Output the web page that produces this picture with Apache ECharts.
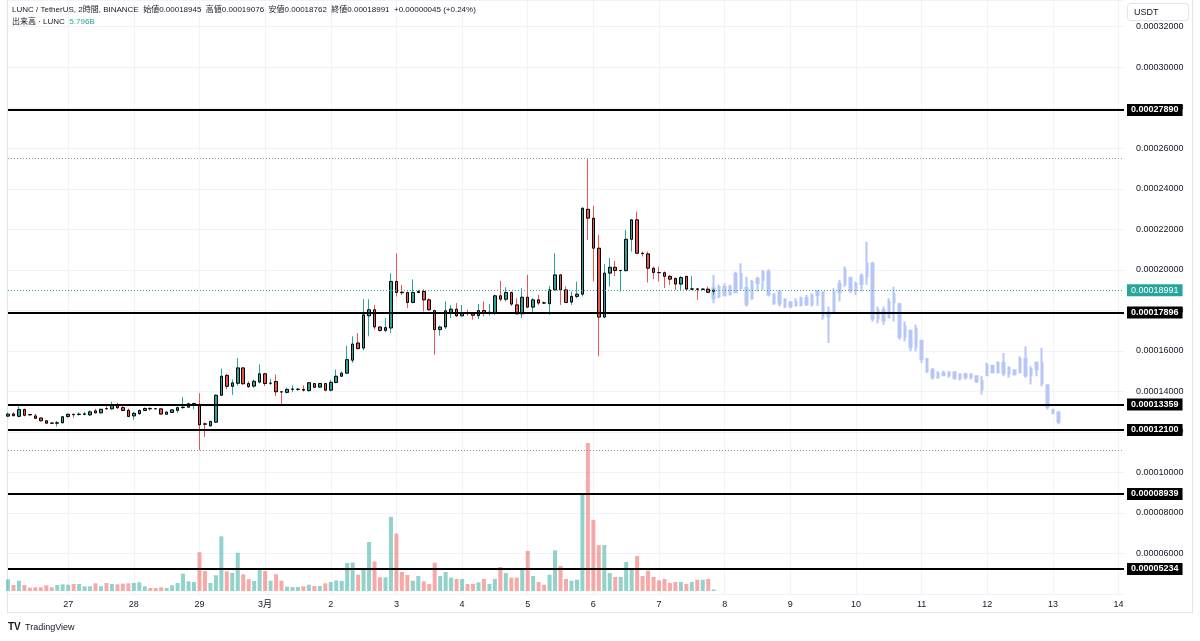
<!DOCTYPE html>
<html>
<head>
<meta charset="utf-8">
<title>LUNC / TetherUS 2時間</title>
<script src="https://cdn.jsdelivr.net/npm/echarts@6.0.0/dist/echarts.min.js"></script>
<style>
  html, body { margin: 0; padding: 0; background: #fff; }
  #chart-main { width: 1200px; height: 641px; }
</style>
</head>
<body>
<div id="chart-main"></div>
<script>
// 価格はすべて 1e-8 USDT 単位 (18991 = 0.00018991)
var startTime = Date.UTC(2024, 1, 26, 2);   // 最初の足 2/26 02:00
var slotCount = 205;                         // 2時間足の枠 (3/14 02:00 まで)

// ローソク足 [始値, 高値, 安値, 終値]
var candles = [
  [12780,12960,12740,12880],[12890,12970,12770,12800],[12770,13370,12720,13110],[13110,13150,12770,12820],
  [12860,12890,12800,12840],[12790,12900,12640,12670],[12690,12720,12520,12550],[12550,12590,12400,12430],
  [12440,12460,12410,12430],[12430,12540,12270,12450],[12450,12780,12420,12750],[12760,12920,12680,12870],
  [12870,12900,12700,12850],[12860,12970,12800,12880],[12870,12990,12820,12890],[12840,13070,12790,12990],
  [13040,13140,12920,12940],[12940,13140,12920,13120],[13150,13370,13110,13140],[13140,13500,13100,13320],
  [13330,13440,13140,13190],[13200,13330,13020,13060],[13070,13160,12750,12760],[12790,12990,12600,12920],
  [12900,13110,12840,13060],[13060,13200,13030,13160],[13160,13210,13050,13140],[13145,13160,13130,13140],
  [13140,13160,12860,12880],[12870,13000,12860,12980],[12960,13120,12930,13090],[13060,13250,12940,13200],
  [13200,13720,13150,13220],[13220,13440,13190,13390],[13380,13440,13120,13400],[13340,13910,11100,12350],
  [12400,12460,11760,12380],[12300,12550,12270,12520],[12480,13850,12460,13810],[13810,15120,13780,14750],
  [14790,14870,14110,14250],[14250,14590,13830,14420],[14400,15650,14280,15160],[15160,15190,14340,14375],
  [14390,14500,14180,14230],[14260,14580,14180,14500],[14460,15330,14390,14870],[14870,14915,14260,14390],
  [14400,14620,14320,14410],[14490,14830,13770,13980],[13980,13990,13360,13970],[13950,14180,13900,14100],
  [14100,14300,13960,14120],[14100,14180,14020,14110],[14100,14300,13990,14060],[14040,14460,13990,14430],
  [14390,14420,14170,14200],[14210,14420,14180,14390],[14390,14420,14010,14060],[14060,14580,14000,14450],
  [14440,15080,14400,14750],[14750,14990,14720,14900],[14900,16260,14880,15570],[15540,16720,15410,16340],
  [16390,16880,16100,16110],[16140,18550,16030,17780],[17730,18550,16720,18030],[18030,18270,17050,17180],
  [17180,17220,16950,17010],[17010,17620,16930,17150],[17130,19830,16880,19430],[19430,20810,18680,18880],
  [18900,19260,18760,18870],[18880,18930,18110,18390],[18390,19530,18350,18880],[18880,19010,18860,18930],
  [18930,19040,17950,18520],[18520,18600,17990,18030],[17990,18030,15820,17050],[17050,17240,16750,17180],
  [17180,18440,17080,17980],[17900,18270,17620,18060],[18060,18360,17670,17730],[17730,18270,17700,17860],
  [17880,18030,17740,17860],[17860,17880,17540,17760],[17740,18320,17570,17990],[17990,18440,17700,17860],
  [17880,18320,17740,17910],[17860,18770,17780,18720],[18720,19460,18440,18550],[18550,19140,18440,18880],
  [18880,18930,18220,18310],[18270,18600,17780,17830],[17830,19100,17620,18650],[18650,19750,18110,18160],
  [18160,18600,17860,18520],[18520,18770,18270,18360],[18370,18440,18320,18360],[18330,19210,17780,19010],
  [19010,20820,18980,19750],[19750,19800,18270,19010],[19010,19180,18360,18390],[18410,18930,18270,18690],
  [18690,19420,18600,18800],[18800,23090,18690,23040],[22990,25510,21480,22550],[22550,23160,19430,21070],
  [21070,21730,15730,17670],[17670,20280,17620,19840],[19840,20580,19180,20130],[20130,20440,19700,19970],
  [19960,20000,18930,19970],[19960,21970,19920,21510],[21510,22510,20900,22470],[22470,22880,20790,20820],
  [20820,20900,20660,20800],[20790,20900,19380,20080],[20080,20160,19540,19870],[19870,20160,19420,19860],
  [19860,19920,19100,19680],[19680,19750,19260,19540],[19580,19620,19010,19300],[19300,19700,18980,19620],
  [19680,19700,19010,19050],[19050,19700,19010,19060],[19060,19100,18520,19040],[19040,19100,18990,19050],
  [19050,19180,18860,18890],[18945,19076,18762,18991]
];

// 出来高 (B LUNC)
var volumes = [
  45.6,23.4,40,23.4,13,14.4,14.4,22,14.4,23.4,
  26,24.6,27.3,27.3,18.3,18.3,30,18.3,31.2,27.3,
  26,28.5,30,31.2,34,18.3,11.7,11.7,14.4,11.7,
  22,31.2,67.5,37.8,35.1,151,78,31.2,61.2,213,
  76.8,70.2,149,65,45.6,39,82,78,40,65,
  40,16.8,15.6,15.6,18.3,24.6,19.5,19.5,30,35,
  41,39,109,111,63.6,89.7,191,115,53.4,53.4,
  289,224,74,62.4,40,58.5,37.8,27.3,110,58.5,
  74,52,46.8,46.8,27.3,27.3,34,46.8,27.3,46.8,
  93.6,70.2,52,52,84.6,156,58.5,35.1,24.6,63.6,
  158.7,97.5,46.8,40,44,374,577,277,179,179,
  70.2,54.6,54.6,113,84.6,136.5,58.5,79.2,54.6,41.7,
  46.8,31.2,35.1,35.1,27.3,35.1,44,44,46.8,5.796
];

// ゴースト足 (予測パターン) [始値, 高値, 安値, 終値]
var ghostStart = 129;
var ghostBars = [
  [19090,19750,18355,18600],[18700,19260,18600,19150],[19150,19340,18680,18750],[18780,19260,18760,19200],
  [18900,19910,18850,19800],[19800,20320,19010,19100],[19100,19660,18190,18300],[18600,19500,18520,19400],
  [19350,19660,18930,19550],[19500,19990,19010,19900],[19900,20025,18680,18800],[18800,18850,18270,18350],
  [18350,19010,18190,18900],[18550,18600,18110,18200],[18200,18440,18110,18400],[18400,18600,18190,18250],
  [18250,18680,18190,18600],[18600,18760,18220,18300],[18300,18850,18190,18750],[18750,19010,18220,18950],
  [18900,18930,17540,17700],[17700,18190,16390,17900],[17950,19090,17860,18900],[18900,19500,18440,19300],
  [19300,20160,19170,20000],[19600,19660,18850,19000],[19000,19420,18760,19300],[19300,19830,18930,19700],
  [19700,21390,19260,20300],[20300,20400,17450,17600],[17600,18190,17370,18000],[18000,18190,17290,17500],
  [17650,18600,17620,18400],[18400,19170,17450,18800],[18300,18360,16550,16700],[16700,17450,16470,17200],
  [17000,17040,15980,16200],[16200,17290,15980,17100],[16500,16550,15400,15600],[15600,15650,14910,15000],
  [15050,15160,14590,14700],[14700,15000,14620,14900],[14900,15030,14750,14800],[14800,15000,14670,14950],
  [14950,15000,14590,14650],[14650,14880,14550,14850],[14850,14920,14590,14700],[14700,14880,14590,14850],
  [14750,14790,14420,14500],[14500,14750,13850,14100],[14800,15410,14750,15300],[15250,15320,14880,14950],
  [14950,15490,14880,15400],[15400,15900,14750,14900],[14900,15240,14670,15150],[15050,15080,14780,14850],
  [14950,15730,14920,15600],[15600,16230,14670,14800],[14800,15240,14340,15100],[15100,15490,14750,15400],
  [15400,16140,14260,14400],[14300,14340,13110,13250],[13100,13110,12870,12950],[12950,13030,12380,12500]
];

// 水平線
var levels = [27890, 17896, 13359, 12100, 8939, 5234];
var lastPrice = 18991;

var upColor = '#26a69a';
var downColor = '#ef5350';
var ghostColor = '#b6c6f6';
var fontSans = "'Liberation Sans', 'Noto Sans CJK JP', sans-serif";

function fmtPrice(v) {
    return (v / 1e8).toFixed(8);
}

var times = [];
for (var i = 0; i < slotCount; i++) {
    times.push(startTime + i * 7200000);
}
function isDayStart(idx) {
    return new Date(times[idx]).getUTCHours() === 0;
}
function dayLabel(value) {
    var d = new Date(Number(value));
    return d.getUTCDate() === 1 ? (d.getUTCMonth() + 1) + '月' : String(d.getUTCDate());
}

var wickData = [], bodyData = [], volData = [], ghostData = [];
for (var i = 0; i < slotCount; i++) {
    var c = candles[i];
    if (c) {
        wickData.push([c[0], c[3], c[2], c[1]]);
        bodyData.push([c[0], c[3], Math.min(c[0], c[3]), Math.max(c[0], c[3])]);
        volData.push({
            value: volumes[i],
            itemStyle: { color: c[3] >= c[0] ? 'rgba(38,166,154,0.5)' : 'rgba(239,83,80,0.5)' }
        });
    } else {
        wickData.push('-');
        bodyData.push('-');
        volData.push('-');
    }
    var g = ghostBars[i - ghostStart];
    ghostData.push(g ? [g[0], g[3], g[2], g[1]] : '-');
}

var highMax = Math.max.apply(null, candles.map(function (c) { return c[1]; }));
var lowMin = Math.min.apply(null, candles.map(function (c) { return c[2]; }));

var levelLines = levels.map(function (v) {
    return {
        yAxis: v,
        lineStyle: { color: '#000', width: 2, type: 'solid' },
        label: {
            show: true, position: 'end', distance: 3,
            formatter: fmtPrice(v),
            color: '#fff', backgroundColor: '#000',
            padding: [2, 4, 1, 4], fontSize: 9, fontWeight: 'bold', fontFamily: fontSans
        }
    };
});

var chartMain = echarts.init(document.getElementById('chart-main'));

var optionMain = {
    animation: false,
    backgroundColor: '#fff',
    textStyle: { fontFamily: fontSans },
    grid: [
        { left: 8, right: 76, top: 0, bottom: 47 },
        { left: 8, right: 76, top: 437, bottom: 50 }
    ],
    xAxis: [{
        type: 'category',
        gridIndex: 0,
        data: times,
        boundaryGap: false,
        axisLine: { show: false },
        axisTick: { show: false },
        axisLabel: {
            interval: function (idx) { return isDayStart(idx); },
            formatter: dayLabel,
            color: '#131722', fontSize: 9, margin: 6
        },
        splitLine: {
            show: true,
            interval: function (idx) { return isDayStart(idx); },
            lineStyle: { color: '#f0f3fa', width: 1 }
        }
    }, {
        type: 'category',
        gridIndex: 1,
        data: times,
        boundaryGap: false,
        show: false
    }],
    yAxis: [{
        type: 'value',
        gridIndex: 0,
        position: 'right',
        min: 4000,
        max: 33320,
        interval: 2000,
        axisLine: { show: false },
        axisTick: { show: false },
        axisLabel: {
            formatter: fmtPrice,
            showMinLabel: false,
            showMaxLabel: false,
            color: '#131722', fontSize: 9, margin: 12
        },
        splitLine: { lineStyle: { color: '#f0f3fa', width: 1 } }
    }, {
        type: 'value',
        gridIndex: 1,
        min: 0,
        max: 600,
        show: false
    }],
    graphic: [
        { type: 'line', shape: { x1: 7.5, y1: 0, x2: 7.5, y2: 613 }, style: { stroke: '#e0e3eb', lineWidth: 1 } },
        { type: 'line', shape: { x1: 7, y1: 612.5, x2: 1193, y2: 612.5 }, style: { stroke: '#e0e3eb', lineWidth: 1 } },
        { type: 'line', shape: { x1: 1192.5, y1: 0, x2: 1192.5, y2: 613 }, style: { stroke: '#e0e3eb', lineWidth: 1 } },
        {
            type: 'text', left: 12, top: 6, z: 10,
            style: {
                text: 'LUNC / TetherUS, 2時間, BINANCE  始値0.00018945  高値0.00019076  安値0.00018762  終値0.00018991  +0.00000045 (+0.24%)',
                fill: '#131722', font: '8px ' + fontSans
            }
        },
        {
            type: 'text', left: 12, top: 18, z: 10,
            style: {
                text: '{a|出来高 · LUNC}  {b|5.796B}',
                font: '8px ' + fontSans,
                rich: {
                    a: { fill: '#131722', font: '8px ' + fontSans },
                    b: { fill: upColor, font: '8px ' + fontSans }
                }
            }
        },
        {
            type: 'rect', z: 10,
            shape: { x: 1127.5, y: 3.5, width: 61, height: 17, r: 3 },
            style: { fill: '#fff', stroke: '#e0e3eb', lineWidth: 1 }
        },
        {
            type: 'text', left: 1134, top: 8, z: 11,
            style: { text: 'USDT', fill: '#131722', font: '9px ' + fontSans }
        },
        {
            type: 'text', left: 8, top: 622, z: 10,
            style: { text: 'TV', fill: '#131722', font: 'bold 10px ' + fontSans }
        },
        {
            type: 'text', left: 25, top: 623, z: 10,
            style: { text: 'TradingView', fill: '#131722', font: '9px ' + fontSans }
        }
    ],
    series: [{
        name: '出来高',
        type: 'bar',
        xAxisIndex: 1,
        yAxisIndex: 1,
        barWidth: 4,
        data: volData
    }, {
        name: 'ゴースト',
        type: 'candlestick',
        xAxisIndex: 0,
        yAxisIndex: 0,
        barWidth: 2,
        itemStyle: {
            color: ghostColor, color0: ghostColor,
            borderColor: ghostColor, borderColor0: ghostColor, borderColorDoji: ghostColor,
            borderWidth: 2
        },
        data: ghostData
    }, {
        name: 'ヒゲ',
        type: 'candlestick',
        xAxisIndex: 0,
        yAxisIndex: 0,
        barWidth: 1,
        itemStyle: {
            color: upColor, color0: downColor,
            borderColor: upColor, borderColor0: downColor, borderColorDoji: upColor,
            borderWidth: 1
        },
        data: wickData
    }, {
        name: 'LUNC',
        type: 'candlestick',
        xAxisIndex: 0,
        yAxisIndex: 0,
        barWidth: 3,
        itemStyle: {
            color: upColor, color0: downColor,
            borderColor: '#000', borderColor0: '#000', borderColorDoji: '#000',
            borderWidth: 1
        },
        data: bodyData,
        markLine: {
            silent: true,
            symbol: ['none', 'none'],
            animation: false,
            data: [
                { yAxis: highMax, lineStyle: { color: '#9598a1', width: 1, type: [1, 2] }, label: { show: false } },
                { yAxis: lowMin, lineStyle: { color: '#9598a1', width: 1, type: [1, 2] }, label: { show: false } },
                {
                    yAxis: lastPrice,
                    lineStyle: { color: upColor, width: 1, type: [1, 2] },
                    label: {
                        show: true, position: 'end', distance: 3,
                        formatter: fmtPrice(lastPrice),
                        color: '#fff', backgroundColor: upColor,
                        padding: [2, 4, 1, 4], fontSize: 9, fontFamily: fontSans
                    }
                }
            ].concat(levelLines)
        }
    }]
};

chartMain.setOption(optionMain);
</script>
</body>
</html>
